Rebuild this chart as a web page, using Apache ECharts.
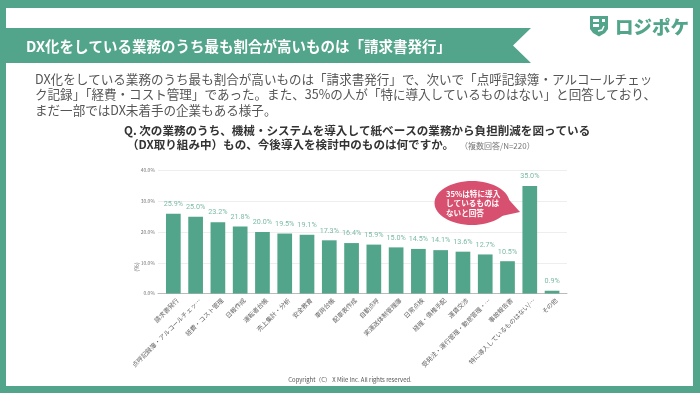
<!DOCTYPE html>
<html><head><meta charset="utf-8">
<style>html,body{margin:0;padding:0;background:#fff}#c{width:700px;height:393px}</style>
<script src="https://cdn.jsdelivr.net/npm/echarts@6/dist/echarts.min.js"></script>
</head><body><div id="c"></div>
<script>
const categories = ['請求書発行','点呼記録簿・アルコールチェッ…','経費・コスト管理','日報作成','運転者台帳','売上集計・分析','安全教育','車両台帳','配車表作成','自動点呼','実運送体制管理簿','日常点検','経理・債権手配','運賃交渉','受発注・運行管理・勤怠管理・…','事故報告書','特に導入しているものはない/…','その他'];
const values = [25.9,25.0,23.2,21.8,20.0,19.5,19.1,17.3,16.4,15.9,15.0,14.5,14.1,13.6,12.7,10.5,35.0,0.9];
const yTicks = {min:0,max:40,interval:10};
const heading = 'DX化をしている業務のうち最も割合が高いものは「請求書発行」';
const bodyLines = ['DX化をしている業務のうち最も割合が高いものは「請求書発行」で、次いで「点呼記録簿・アルコールチェッ','ク記録」「経費・コスト管理」であった。また、35%の人が「特に導入しているものはない」と回答しており、','まだ一部ではDX未着手の企業もある様子。'];
const questionLines = ['Q. 次の業務のうち、機械・システムを導入して紙ベースの業務から負担削減を図っている','（DX取り組み中）もの、今後導入を検討中のものは何ですか。'];
const note = '（複数回答/N=220）';
const callout = ['35%は特に導入','しているものは','ないと回答'];
const copyright = 'Copyright（C） X Mile Inc. All rights reserved.';
const GREEN='#52a58a', FONT='"Noto Sans CJK JP","Noto Sans",sans-serif';

const txt=(x,y,t,size,fill,weight,align)=>({type:'text',x,y,silent:true,z:10,style:{text:t,font:`${weight||'normal'} ${size}px ${FONT}`,fill,textAlign:align||'left',textVerticalAlign:'middle'}});
const graphics=[
 {type:'rect',shape:{x:0,y:0,width:700,height:8},style:{fill:GREEN}},
 {type:'rect',shape:{x:0,y:0,width:6,height:393},style:{fill:GREEN}},
 {type:'rect',shape:{x:693,y:0,width:7,height:393},style:{fill:GREEN}},
 {type:'rect',shape:{x:0,y:386,width:700,height:7},style:{fill:GREEN}},
 {type:'polygon',shape:{points:[[6,28],[531,28],[513,45.5],[531,63],[6,63]]},style:{fill:GREEN}},
 txt(26,46,heading,14.5,'#fff','bold'),
 ...bodyLines.map((l,i)=>txt(35,79+i*15.5,l,12.55,'#555')),
 ...questionLines.map((l,i)=>txt(i?127:124,131+i*14,l,11.57,'#333','bold')),
 txt(460,146,note,8,'#777'),
 {type:'polygon',shape:{points:[[590,16],[608,16],[608,29],[605,33],[599,36.5],[593,33],[590,29]]},style:{fill:GREEN}},
 {type:'rect',z:5,shape:{x:593,y:19,width:6,height:3},style:{fill:'#fff'}},
 {type:'rect',z:5,shape:{x:593,y:24,width:6,height:3},style:{fill:'#fff'}},
 {type:'rect',z:5,shape:{x:602,y:19,width:3,height:3},style:{fill:'#fff'}},
 {type:'polyline',z:5,shape:{points:[[598,31],[602,30],[604,26]]},style:{stroke:'#fff',lineWidth:1.5,fill:null}},
 txt(615,26.5,'ロジポケ',18.5,GREEN,'900'),
 {type:'ellipse',z:9,shape:{cx:472,cy:203,rx:37.5,ry:22},style:{fill:'#d8506f'}},
 {type:'polygon',z:9,shape:{points:[[502,192],[520,212],[497,217]]},style:{fill:'#d8506f'}},
 ...callout.map((l,i)=>txt(446,194+i*9.5,l,7.6,'#fff','bold')),
 {type:'text',x:137,y:267,rotation:Math.PI/2,z:10,style:{text:'(%)',font:`6px ${FONT}`,fill:'#888',textAlign:'center',textVerticalAlign:'middle'}},
 txt(350,380,copyright,5.9,'#555','normal','center')
];
const chart=echarts.init(document.getElementById('c'),null,{renderer:'canvas'});
chart.setOption({
 animation:false,
 textStyle:{fontFamily:FONT},
 graphic:graphics,
 grid:[{left:158,width:409,top:170.5,height:123},{left:162.2,width:401,top:170.5,height:123}],
 xAxis:[
  {gridIndex:0,type:'category',data:[''],axisLine:{lineStyle:{color:'#bbb',width:1}},axisTick:{show:false},axisLabel:{show:false}},
  {gridIndex:1,type:'category',data:categories,axisLine:{show:false},axisTick:{show:false},
   axisLabel:{interval:0,rotate:45,fontSize:6.3,color:'#666',margin:10,padding:[0,-6,0,0],hideOverlap:false}}
 ],
 yAxis:[
  {gridIndex:0,type:'value',...yTicks,axisLine:{show:false},axisTick:{show:false},splitLine:{lineStyle:{color:'#eee',width:1}},
   axisLabel:{fontSize:5,color:'#777',margin:3,formatter:v=>v.toFixed(1)+'%'}},
  {gridIndex:1,type:'value',...yTicks,show:false,splitLine:{show:false}}
 ],
 series:[{type:'bar',xAxisIndex:1,yAxisIndex:1,data:values,barWidth:14.7,itemStyle:{color:GREEN},
  label:{show:true,position:'top',distance:6,fontSize:7.2,color:'#7cbba5',fontFamily:'Roboto',formatter:p=>p.value.toFixed(1)+'%'}}]
});
</script></body></html>
